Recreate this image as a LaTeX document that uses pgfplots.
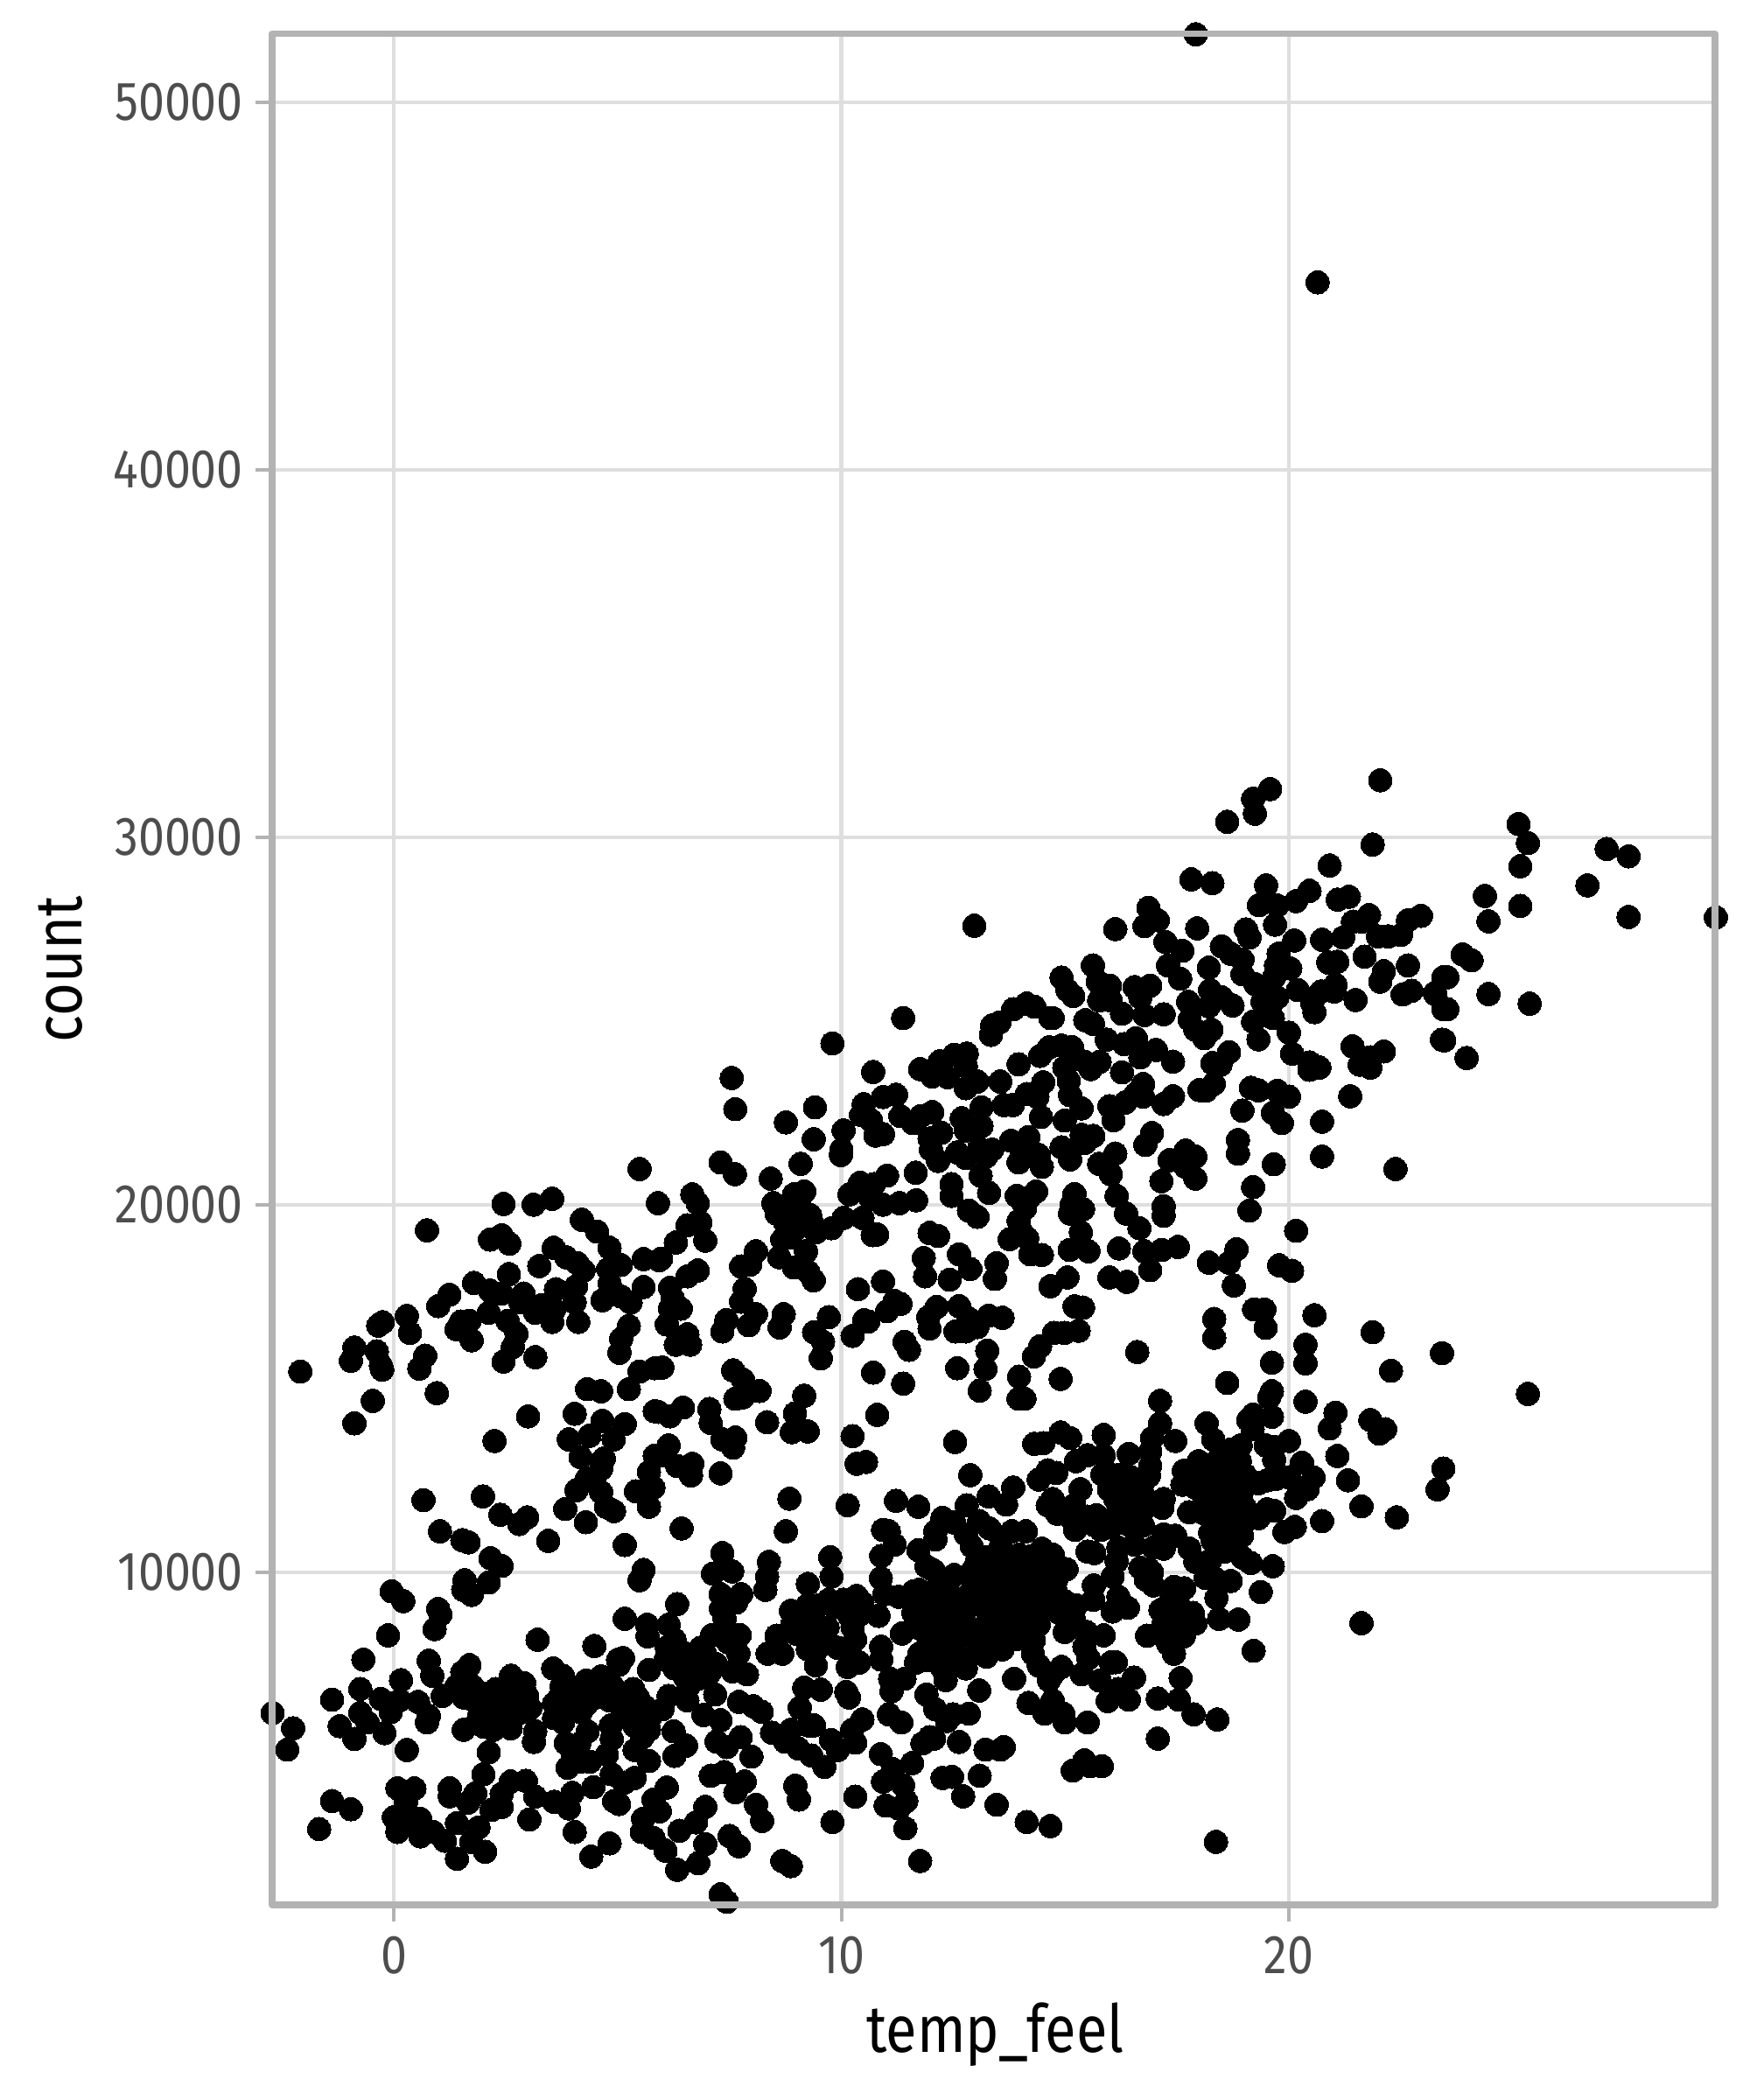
\documentclass[border=0pt]{standalone}
\usepackage{pgfplots}
\pgfplotsset{compat=1.18}
\usepackage{fontspec}
\setmainfont[FakeStretch=0.86]{Fira Sans}
\definecolor{frame}{HTML}{B3B3B3}
\definecolor{gridc}{HTML}{DEDEDE}
\definecolor{labc}{HTML}{4D4D4D}
\begin{document}
\begin{tikzpicture}
\path[use as bounding box] (-77.75pt,-55.75pt) rectangle (422.25pt,544.25pt);
\begin{axis}[
  at={(0pt,0pt)}, anchor=south west, scale only axis,
  width=412.25pt, height=534.6pt,
  xmin=-2.72, xmax=29.52, ymin=945, ymax=51864,
  clip=false,
  axis line style={draw=none},
  axis x line*=bottom, axis y line*=left,
  xtick={0,10,20}, ytick={10000,20000,30000,40000,50000},
  tick align=outside, major tick length=4.75pt,
  tick style={draw=frame, line width=1pt},
  grid=major, major grid style={draw=gridc, line width=1.05pt},
  scaled ticks=false,
  /pgf/number format/assume math mode=true,
  /pgf/number format/1000 sep={},
  ticklabel style={font=\fontsize{15.6}{18}\selectfont, text=labc},
  xticklabel style={yshift=-0.8pt},
  xlabel={temp\_feel}, ylabel={count},
  xlabel shift=1.1pt, ylabel shift=1.9pt,
  xlabel style={xshift=0.5pt},
  label style={font=\fontsize{18.9}{22}\selectfont, text=black},
]
\addplot[only marks, mark=*, mark size=3.35pt, mark options={line width=0pt, draw=black, fill=black}] coordinates {
(17.92,51850) (20.64,45100)
(5.49,20970) (5.9,20040) (2.45,20020) (3.12,20000) (3.54,20160) (4.2,19590) (4.54,19270) (0.74,19300) (2.15,19050) (2.41,19170)
(2.58,18940) (3.57,18825) (3.85,18570) (4.1,18410) (4.24,18210) (4.82,18825) (4.79,18250) (5.07,18360) (5.58,18520) (5.93,18490)
(3.25,18330) (2.57,18110) (1.79,17870) (5.58,17760) (4.82,17860) (4.07,17780) (3.62,17700) (2.9,17580) (2.15,17660) (2.41,17580)
(1.24,17550) (0.99,17240) (4.66,17400) (5.08,17500) (5.29,17340) (4.04,17340) (2.83,17340) (3.16,17060) (3.29,17260) (3.58,17140)
(3.54,16810) (4.12,16810) (1.69,16840) (2.12,17060) (0.29,16970) (1.5,16820) (1.4,16610) (2.54,16840) (5.25,16700) (5.08,16350)
(5.04,15970) (2.74,16490) (1.74,16310) (0.36,16510) (-0.25,16800) (-0.35,16710) (-0.88,16110) (-0.38,16010) (-0.96,15750) (2.66,16130)
(0.7,15890) (-0.29,15630) (-0.26,15510) (3.16,15850) (2.45,15730) (0.57,15540) (-2.09,15460) (0.96,14870) (-0.47,14660) (-0.88,14050)
(5.49,15460) (5.83,15550) (4.32,14980) (4.63,14920) (5.25,14980) (5.83,14380) (4.04,14310) (4.66,14120) (5.16,14030) (3.0,14240)
(2.25,13570) (3.91,13610) (4.37,13710) (4.91,13610) (4.17,13130) (4.69,13090) (4.63,12810) (5.83,13170) (5.7,12730) (4.31,12540)
(4.08,12230) (4.63,12180) (5.41,12200) (5.8,12300) (5.7,11780) (3.83,11720) (4.74,11780) (4.92,11660) (0.66,11960) (1.99,12060)
(2.38,11560) (2.98,11490) (2.8,11310) (4.29,11360) (1.03,11110)
(1.53,10870) (1.67,10810) (3.45,10850) (5.16,10740) (5.58,10060) (5.49,9780) (2.16,10380) (2.41,10170) (1.58,9780) (2.12,9720)
(1.55,9520) (1.74,9380) (-0.05,9480) (0.21,9210) (0.99,9000) (1.04,8850) (0.91,8450) (5.16,8730) (5.66,8570) (5.67,8250)
(-0.13,8280) (3.21,8160) (4.48,7990) (-0.68,7620) (0.78,7590) (0.86,7180) (5.01,7620) (5.12,7660) (5.03,7480) (5.7,7340)
(1.69,7470) (1.53,7280) (0.16,7060) (-0.75,6820) (-1.38,6530) (-2.71,6170) (-2.25,5750) (-2.38,5170) (-1.21,5810) (-0.88,5460)
(-0.75,6170) (-0.59,5910) (-0.29,6550) (-0.21,5620) (-0.07,6190) (-0.03,6430) (0.13,6510) (0.29,5160) (0.54,6470) (0.78,6090)
(0.74,5910) (1.09,6630) (1.4,6900) (1.56,6590) (1.76,6900) (1.92,6430) (2.02,6150) (1.56,5710) (2.28,6820) (2.62,7180)
(2.91,6980) (2.98,6630) (2.61,6590) (2.22,6510) (2.87,6190) (2.22,5710) (2.61,5750) (2.02,5790) (3.16,5670) (3.13,5380)
(2.12,5100) (3.56,7380) (3.78,7180) (3.58,6430) (3.91,6820) (4.17,6820) (3.58,6030) (3.78,5910) (4.17,6190) (4.33,5670)
(4.63,7160) (4.5,6590) (4.82,6510) (4.89,6900) (5.35,6820) (4.85,5830) (4.87,5460) (5.41,6430) (5.6,6350) (5.38,5810)
(5.7,5710) (5.38,5160) (5.7,4860) (4.76,5040) (3.84,5350) (4.14,5320) (4.0,5000) (3.88,4680) (4.38,4840) (4.17,4840)
(2.0,4500) (4.87,4500) (5.15,4270) (5.38,4400) (2.61,4300) (2.95,4320) (4.46,4150) (3.99,3990) (3.16,3890) (2.41,3970)
(1.82,3980) (1.25,4120) (1.25,3900) (0.08,4120) (0.46,4110) (-1.38,3770) (-0.96,3550) (0.27,3730) (1.66,3730) (3.58,3750)
(3.91,3570) (5.03,3690) (4.92,3770) (2.41,3610) (2.18,3530) (3.03,3270) (5.57,3290) (5.8,3810) (0,3330) (0.59,3290)
(0.26,3250) (0.08,2930) (0.59,2810) (0.88,2930) (1.14,2690) (1.41,3170) (1.89,3050) (1.73,2660) (-1.67,3010) (2.04,2390)
(1.41,2200) (4.04,2930) (4.82,2620) (4.41,2260) (5.54,2930) (5.8,2770)
(7.3,21150) (7.62,20830) (9.09,21110) (9.99,21350) (6.67,20280) (6.79,20040) (6.85,19520) (6.56,19440) (6.3,18970) (6.96,19020)
(8.42,20710) (8.94,20280) (9.17,20360) (8.48,20040) (8.55,19760) (9.3,19720) (8.74,19520) (8.94,19290) (8.68,19050) (9.43,19250)
(9.78,19360) (10.05,19640) (10.47,19640) (9.21,18730) (8.09,18730) (7.96,18370) (7.76,18320) (8.61,18570) (8.94,18290) (9.26,18170)
(9.38,17940) (5.97,18530) (6.79,18210) (6.56,18050) (6.17,17740) (7.84,17710) (7.76,17360) (6.23,17460) (6.41,17170) (6.17,17180)
(8.09,17020) (7.93,16720) (7.43,16860) (7.34,16550) (8.71,17020) (8.62,16660) (9.72,16940) (6.1,16740) (6.56,16470) (6.3,16190)
(6.62,16190) (9.39,16530) (9.59,16270) (9.54,15820) (6.0,15570) (7.58,15490) (7.8,15240) (8.17,14930) (7.63,14720) (7.8,14760)
(9.17,14800) (8.96,14320) (8.34,14080) (8.89,13810) (9.25,13830) (6.46,14480) (6.17,14240) (5.91,14360) (7.05,14440) (7.08,14060)
(7.34,13610) (7.63,13660) (7.58,13390) (6.14,13450) (6,13170) (6.33,12890) (6.67,12950) (6.64,12630) (7.3,12690) (8.84,12000)
(10.14,11820) (6.43,11190) (8.76,11110)
(10.18,20280) (10.42,20600) (10.73,20560) (11.02,20790) (10.66,20160) (10.93,20000) (11.3,20040) (11.67,20120) (11.66,20870) (12.16,21190)
(12.78,21270) (13.23,21310) (12.46,20560) (12.46,20240) (13.11,20790) (13.3,20320) (12.85,19840) (13.04,19670) (13.96,21150) (14.48,21030)
(13.92,20240) (14.35,20360) (14.09,20000) (13.96,19560) (14.15,19090) (13.76,19060) (14.22,18650) (14.48,18630) (11.97,19230) (12.16,19150)
(10.7,19170) (10.8,19190) (11.84,18550) (11.87,18050) (12.63,18650) (12.88,18250) (12.42,17960) (13.47,18410) (13.43,17980) (14.67,17780)
(10.93,17910) (10.37,17700) (11.19,17380) (11.32,17300) (11.02,17100) (12.13,17220) (11.94,16940) (11.97,16630) (12.63,17240) (12.85,16900)
(12.55,16550) (12.78,16550) (13.04,16670) (13.29,16980) (13.6,16920) (10.51,16860) (10.6,16820) (10.25,16430) (11.41,16270) (11.51,16050)
(13.26,16030) (13.22,15530) (12.59,15550) (14.44,16150) (14.3,15870) (10.71,15430) (11.38,15130) (13.09,14940) (13.97,15320) (13.96,14720)
(14.09,14720) (10.8,14280) (10.25,13700) (12.54,13540) (14.31,13490) (14.51,13510) (10.34,12950) (10.55,13000) (12.88,12640) (14.41,12520)
(14.61,12770) (13.84,12300) (13.29,12060) (13.68,11840) (12.8,11820) (14.61,11820) (11.22,11940) (11.72,11780) (12.26,11480) (12.52,11350)
(13.08,11390) (13.31,11190) (13.81,11110) (14.12,11110) (10.93,11150) (11.06,11110) (12.1,11110)
(7.34,10520) (7.13,9960) (7.56,10020) (8.38,10280) (8.34,9880) (8.3,9520) (9.75,10410) (9.78,9880) (9.25,9680) (7.3,9400)
(7.76,9400) (7.31,9010) (7.65,9170) (7.39,8730) (6.33,9130) (8.87,8950) (9.23,9090) (9.72,9250) (10.05,9250) (10.34,9350)
(10.47,9170) (10.18,8810) (9.85,9050) (10.83,8810) (10.89,10440) (11.19,10750) (11.72,10600) (12.1,10890) (10.88,9840) (10.96,9400)
(11.28,9330) (11.61,9480) (11.9,10160) (12.07,10040) (12.52,9920) (12.88,9440) (12.46,9360) (12.07,9210) (11.61,8890) (13.27,8890)
(13.04,10320) (13.56,10320) (13.97,10480) (14.48,10640) (13.24,9840) (13.7,9760) (14.28,9920) (14.41,9360) (13.76,9210) (14.15,9050)
(14.41,8570) (13.56,10950) (12.78,11030) (11.35,8330) (11.9,8330) (12.65,8570) (10.89,7970) (10.89,7620) (12.39,8250) (12.98,8170)
(13.37,8250) (13.89,8170) (11.74,7780) (12.26,7380) (11.67,7540) (12.78,7380) (13.24,7700) (14.28,7780) (14.41,7460) (14.64,7060)
(13.86,7100) (13.08,6780) (12.33,7060) (11.9,6670) (12.1,6270) (11.41,7100) (11.09,7100) (11.12,6760) (14.18,6440) (14.54,6150)
(12.49,6130) (12.85,6150) (12.36,5950) (11.06,6130) (11.34,5910) (12.63,5380) (11.97,5510) (11.81,5340) (12.07,5470) (13.22,5170)
(13.63,5240) (13.55,5170) (10.88,5050) (11.58,4800) (11.15,4640) (10.93,4300) (11.38,4200) (11.45,3770) (10.99,3650) (11.28,3570)
(12.26,4400) (12.47,4430) (13.09,4460) (12.72,3900) (13.47,3670) (11.43,3030) (14.14,3200) (14.67,3090) (11.76,2140) (10.31,3890)
(9.8,3200) (9.05,3810) (8.97,4190) (8.09,3670) (8.23,3230) (10.11,6740) (10.17,6590) (10.47,5990) (10.24,5710) (10.31,5360)
(9.92,5160) (9.77,5430) (9.62,4700) (9.33,5010) (9.04,5200) (8.74,5390) (8.45,5630) (8.87,5710) (9.26,5830) (9.39,5830)
(9.07,6310) (9.17,6860) (9.54,6800) (9.43,7460) (10.14,7420) (10.4,7540) (9.43,7860) (9.92,7940) (10.31,8170) (8.98,8330)
(8.55,8270) (8.35,7780) (8.68,7780) (8.9,8570) (9.69,8490) (7.11,8290) (7.47,8090) (7.73,8290) (7.7,7780) (7.57,7300)
(7.89,7220) (6.14,8570) (6.27,8170) (6.85,7940) (6.07,7620) (6.53,7780) (7.0,7540) (6.27,7380) (6.66,7300) (6.56,6510)
(6.59,6900) (7.18,6670) (6.14,6630) (6.0,6270) (7.71,6470) (8.03,6350) (8.22,6200) (6.92,6110) (7.3,5970) (6.25,5670)
(6.53,5280) (6.27,5000) (7.21,5390) (7.44,5240) (7.75,5510) (7.99,4980) (7.08,4460) (7.38,4560) (7.84,4300) (7.63,4010)
(6.1,4140) (5.94,3490) (6.96,3610) (6.75,3190) (6.38,2960) (7.5,2820) (7.71,2540) (6.96,2600) (6.07,2420) (6.8,2080)
(6.33,1900) (8.68,2140) (8.87,2000) (7.3,1230) (7.44,1030)
(17.82,28850) (18.29,28750) (19.49,28690) (20.46,28540) (20.16,28260) (19.74,28140) (19.33,28150) (19.69,27620) (21.09,28300) (21.34,28380)
(21.79,27880) (21.43,27700) (21.63,27700) (22.66,27740) (22.95,27860) (21.21,27270) (20.74,27210) (21.99,27300) (22.22,27300) (22.5,27340)
(20.12,27190) (16.86,28080) (17.07,27740) (16.77,27580) (16.12,27500) (17.95,27520) (19.04,27490) (19.12,27270) (17.24,27150) (17.62,26910)
(18.5,27030) (18.7,26830) (18.96,26670) (19.77,26830) (21.69,26750) (20.88,26590) (21.08,26610) (22.66,26510) (17.3,26510) (15.62,26510)
(18.21,26450) (19.71,26510) (20.03,26430) (22.12,26350) (22.04,26070) (17.57,26150) (14.92,26180) (15.73,26070) (18.96,26270) (19.67,26190)
(16.9,25960) (16.55,25920) (16.0,25960) (19.25,26000) (21.04,25990) (20.72,25800) (20.2,25840) (22.74,25820) (22.54,25720) (23.26,25760)
(23.45,26190) (18.24,25840) (15.05,25840) (15.18,25680) (16.68,25640) (18.5,25640) (21.49,25570) (21.01,25800) (19.48,25800) (19.74,25640)
(17.75,25520) (18.74,25420) (19.41,25520) (15.76,25560) (16.02,25560) (16.27,25200) (20.52,25480) (20.57,25240) (18.21,25400) (16.77,25160)
(17.2,25180) (14.72,25080) (19.64,25080) (23.45,25320) (15.45,25020) (15.62,24920) (19.2,24980) (17.78,25040) (20.0,24680) (17.91,24760)
(18.27,24760) (18.11,24530) (19.32,24500) (15.93,24490) (16.58,24530) (16.32,24370) (17.03,24210) (14.92,24330) (15.15,24290) (21.42,24310)
(22.12,24170) (21.82,24010) (23.42,24490) (18.66,24150) (16.68,24010) (17.41,23890) (20.07,24110) (20.46,23870) (20.68,23730) (15.44,23890)
(15.57,23690) (15.77,23890) (18.29,23850) (18.47,23810) (14.98,23730) (16.27,23600) (20.46,23670) (21.58,23810) (21.82,23730) (15.08,23370)
(16.74,23280) (18.32,23290) (18.0,23120) (18.14,23100) (19.15,23180) (19.32,23110) (19.74,23100) (20.0,22940) (17.41,22950) (17.2,22740)
(16.58,23020) (16.74,22940) (15.11,22980) (15.99,22680) (16.34,22780) (15.37,22620) (21.37,22950) (18.96,22560) (19.64,22500) (19.84,22220)
(20.74,22260) (14.99,22290) (16.08,22300) (16.94,21950) (16.79,21630) (18.86,21760) (15.63,21870) (15.37,21900) (14.92,21560) (15.44,21680)
(15.11,21230) (16.12,21390) (15.76,21110) (16.02,20830) (17.69,21470) (17.91,21310) (17.33,21210) (17.69,21030) (17.91,20710) (18.86,21390)
(19.66,21100) (20.74,21310) (22.38,20970) (17.15,20640) (19.2,20480) (15.21,20290) (16.15,20240) (15.14,20000) (15.4,19880) (15.11,19760)
(17.2,19960) (17.2,19700) (16.36,19760) (16.66,19360) (19.12,19840) (20.16,19290) (15.35,19250) (15.1,18770) (15.52,18730) (16.2,18810)
(16.77,18730) (17.16,18770) (17.52,18850) (18.83,18790)
(18.21,18420) (18.66,18420) (19.78,18350) (20.07,18200) (18.77,17800) (15.99,18020) (16.38,17900) (16.9,18220) (15.05,18020) (15.21,17230)
(15.4,17200) (15.3,16570) (14.98,16510) (14.75,16510) (19.22,17150) (19.45,17150) (19.48,16650) (18.33,16890) (18.33,16380) (20.57,16990)
(21.87,16530) (20.37,16190) (20.37,15680) (22.28,15480) (19.62,15700) (23.42,15960) (16.61,15990) (14.9,15260) (18.62,15150) (19.62,14920)
(19.56,14760) (20.37,14640) (17.12,14660) (21.04,14340) (20.91,13910) (21.82,14140) (22.15,13890) (22.02,13770) (19.62,14230) (19.2,14290)
(19.09,14140) (19.19,13890) (17.12,14050) (18.16,14050) (16.94,13650) (18.31,13610) (17.46,13570) (20.0,13570) (14.9,13800) (15.11,13650)
(15.86,13730) (21.08,13160) (16.42,13220) (16.9,13290) (18.92,13450) (18.7,13340) (19.48,13450) (19.67,13410) (18.47,13180) (20.29,12980)
(18.9,13020) (19.67,13060) (15.24,13020) (15.5,13180) (15.86,13180) (16.9,12900) (17.65,12760) (14.8,12700) (15.83,12660) (23.45,12820)
(16.48,12580) (16.87,12620) (18.18,12660) (18.57,12700) (18.83,12860) (20.55,12580) (21.32,12500) (20.0,12580) (19.71,12540) (19.32,12420)
(19.51,12500) (15.34,12260) (16.12,12300) (16.61,12300) (17.62,12380) (17.91,12300) (18.57,12300) (20.42,12260) (23.32,12250) (20.16,12020)
(16.12,11990) (16.77,12060) (17.2,11990) (17.17,11750) (18.24,11990) (18.83,11830) (14.72,11990) (15.2,11830) (21.62,11790) (17.77,11630)
(14.82,11590) (15.05,11550) (19.51,11710) (19.67,11670) (15.5,11510) (15.7,11550) (16.22,11550) (16.55,11590) (22.41,11490) (20.74,11390)
(19.32,11470) (19.09,11550) (18.31,11430) (18.7,11310) (20.13,11230) (19.9,11090) (16.74,11270) (15.22,11150) (15.8,11150) (16.03,11230)
(17.2,11030) (17.46,10990) (18.24,11070) (18.95,10990) (18.57,10870) (16.55,10750) (16.19,10670) (17.2,10640) (16.97,10670) (17.78,10640)
(14.72,10480) (15.5,10560) (15.65,10520) (18.57,10560) (18.96,10400) (19.15,10250) (18.24,10320) (16.15,10300) (16.68,10120) (16.94,10000)
(17.91,10280) (15.03,10080) (19.64,10160) (18.14,9840)
(18.7,9760) (18.38,9800) (16.97,9640) (17.43,9600) (17.66,9560) (16.06,9880) (15.64,9640) (14.8,9800) (15.0,10080) (19.37,9460)
(18.38,9300) (15.63,9250) (16.19,9330) (17.36,9210) (15.11,8970) (14.79,9290) (17.85,8890) (16.4,9030) (16.06,8930) (17.23,8770)
(17.52,8810) (17.78,8690) (18.44,8730) (18.87,8710) (21.62,8610) (14.99,8370) (15.48,8370) (15.86,8280) (16.83,8270) (17.36,8370)
(17.43,7780) (17.3,8050) (19.21,7860) (15.43,7970) (15.52,7660) (14.92,7420) (14.72,7220) (16.02,7540) (16.13,7550) (15.37,7220)
(15.77,7050) (16.54,7130) (17.58,7120) (16.19,6820) (15.95,6490) (16.42,6530) (17.07,6560) (17.54,6530) (17.87,6130) (18.4,5990)
(17.07,5470) (14.99,5910) (15.5,5910) (14.96,6150) (14.72,6510) (15.43,4880) (15.17,4600) (15.56,4720) (15.82,4720) (18.37,2660)
(19.58,31310) (19.2,31050) (19.24,30640) (18.62,30420) (22.04,31550) (21.87,29800) (20.91,29230)
(25.13,30360) (25.34,29840) (25.17,29210) (27.1,29680) (27.59,29480) (26.67,28690) (24.38,28400) (25.17,28130) (24.46,27710) (27.59,27830)
(29.54,27820) (23.88,26810) (24.08,26650) (23.54,26190) (24.46,25730) (25.38,25470) (23.27,25730) (23.54,25320) (23.47,24470) (23.97,23990)
(25.34,14850)
(12.97,27590) (11.38,25080) (9.8,24390) (7.55,23450) (7.63,22600) (9.41,22650) (8.76,22240) (9.38,21780) (10.05,22020) (10.0,21500)
(10.71,23610) (14.14,25470) (14.31,25390) (13.84,25320) (13.53,24960) (13.37,24880) (13.34,24620) (14.67,25080) (12.8,24110) (12.52,24080)
(12.2,23900) (12.78,23770) (11.76,23690) (12.03,23490) (12.37,23470) (13.04,23350) (12.78,23170) (13.55,23350) (13.96,23820) (14.44,24050)
(14.64,24280) (14.51,23330) (11.22,22990) (10.93,22930) (10.5,22730) (14.14,23010) (14.38,22930) (13.63,22710) (13.83,22710) (13.13,22650)
(14.46,22390) (12.03,22520) (11.77,22410) (10.44,22440) (11.32,22410) (10.66,22300) (11.6,22220) (12.69,22350) (13.13,22140) (12.78,22020)
(10.93,21920) (10.76,21880) (12.23,21960) (11.97,21800) (13.79,21740) (14.18,21840) (12,21500) (12.59,21420) (13.08,21540) (13.37,21500)
(14.18,21500) (14.41,21350)
(12.91,10710) (13.24,10400) (13.56,10700) (13.89,10100) (14.21,10420) (14.54,10080) (12.95,10080) (13.4,10150) (13.7,10450) (14.05,9760) (14.35,9780) (14.6,9600)
(12.98,9750) (13.42,9500) (13.85,9520) (14.2,9600) (13.1,9280) (13.5,9000) (13.95,8800) (14.55,9050) (13.15,8480) (13.6,8500) (14.0,8450) (14.3,8150) (13.6,7900) (13.05,7850)
(11.74,9520) (12.2,9720) (12.39,9080) (12.72,9120) (11.85,9090) (12.1,8700) (12.4,8720) (12.75,8900) (11.78,8450) (12.15,8350) (12.6,8200) (12.1,7950) (12.45,7800) (11.95,7600) (12.6,7700)
(9.5,9100) (10.15,9100) (10.42,8850) (9.3,8800) (10.25,8500) (9.25,8400) (9.5,8150) (10.1,7900) (9.25,7900)
(6.1,7950) (6.45,7600) (6.7,7650) (6.95,7800) (7.2,7500) (6.5,7150) (6.8,7100) (7.05,7250) (6.25,7750)
(1.8,6500) (2.1,6700) (2.45,6850) (2.75,6400) (3.05,6300) (2.5,6200) (1.9,6050) (3.7,6600) (3.85,6250) (4.05,6500) (4.3,6400) (3.75,6900) (4.3,7050) (4.7,6800) (5.0,6450) (5.2,6100) (5.5,6050) (5.45,6600) (5.75,6100) (5.55,5500)
(17.98,13020) (18.24,12900) (18.5,12950) (18.76,12550) (19.02,12650) (18.05,12500) (18.35,12450) (18.95,12200) (18.1,12100) (18.45,11950) (18.75,12100) (19.0,11800) (18.1,11600) (18.45,11650) (18.85,11550) (18.4,11200) (18.7,10950) (18.95,11250) (18.3,10850) (18.75,10750)
(15.96,12700) (16.22,12650) (16.48,12300) (16.74,12450) (15.98,12250) (16.3,12050) (16.55,12050) (16.2,11750) (16.5,11800) (16.72,11650) (15.4,11400) (15.65,11280) (15.95,11400) (16.4,11300)
(17.13,8970) (17.39,8900) (17.65,8950) (17.91,8600) (17.2,8600) (17.55,8550) (17.65,8250)
(14.8,9450) (15.0,9200) (15.25,9100) (14.85,8900) (15.2,8700) (16.87,10080) (16.8,9800)
(8.85,20050) (9.1,19900) (9.35,19500) (8.65,19700) (9.05,19550) (8.85,19100) (14.1,19900) (14.0,19300) (14.2,20200)
};
\end{axis}
\begin{axis}[
  at={(0pt,0pt)}, anchor=south west, scale only axis,
  width=412.25pt, height=534.6pt,
  xmin=-2.72, xmax=29.52, ymin=945, ymax=51864,
  xtick=\empty, ytick=\empty,
  axis line style={draw=frame, line width=1.95pt, line join=round},
  axis on top,
]
\end{axis}
\end{tikzpicture}
\end{document}
